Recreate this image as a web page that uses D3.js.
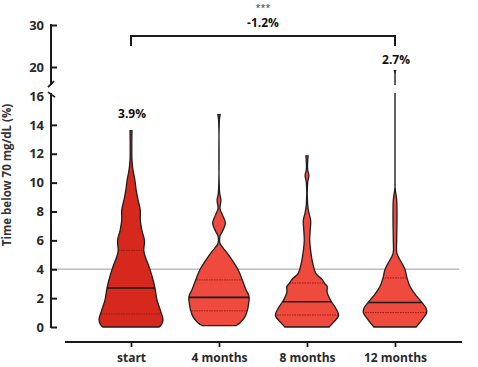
<!DOCTYPE html>
<html><head><meta charset="utf-8">
<script src="https://cdn.jsdelivr.net/npm/d3@7"></script>
<style>body{margin:0;background:#fff}svg{display:block}text{font-family:"Open Sans",sans-serif}</style>
</head><body><svg id="c" width="478" height="367"></svg>
<script>
const categories = ["start","4 months","8 months","12 months"];
const medians = [2.7, 2.05, 1.75, 1.7];
const q1 = [0.9, 1.12, 0.83, 1.0];
const q3 = [5.3, 3.26, 3.05, 3.4];
const maxima = [13.6, 14.7, 11.85, 19.3];
const pctLabels = ["3.9%", "", "", "2.7%"];
const lowTicks = [0,2,4,6,8,10,12,14,16];
const highTicks = [20,30];
const refLine = 4;
const compText = ["***", "-1.2%"];
// density profiles: [value, relative density]
const densStart = [[0,0.88],[0.2,0.96],[0.5,1.0],[1.2,0.91],[1.9,0.81],[2.7,0.75],[3.5,0.66],[4.2,0.56],[4.9,0.44],[5.3,0.40],[6.0,0.42],[6.7,0.34],[7.4,0.29],[8.1,0.29],[8.8,0.22],[9.5,0.16],[10.2,0.12],[10.9,0.06],[11.6,0.03],[12.5,0.025],[13.6,0.03]];
const dens4 = [[0.1,0.53],[0.3,0.66],[0.7,0.81],[1.1,0.88],[1.4,0.91],[2.1,0.94],[2.6,0.84],[3.3,0.72],[4.0,0.59],[4.9,0.33],[5.5,0.12],[5.8,0.03],[6.3,0.03],[6.6,0.1],[7.2,0.2],[7.8,0.1],[8.2,0.03],[8.8,0.06],[9.3,0.02],[14.4,0.015],[14.7,0.035]];
const dens8 = [[0,0.69],[0.35,0.84],[0.8,0.99],[1.3,0.9],[1.8,0.75],[2.4,0.63],[2.8,0.63],[3.0,0.56],[3.3,0.47],[3.7,0.28],[4.4,0.18],[5.1,0.125],[6.0,0.085],[6.7,0.1],[7.4,0.115],[7.9,0.06],[8.5,0.02],[10.0,0.02],[10.5,0.06],[10.9,0.02],[11.6,0.025],[11.85,0.035]];
const dens12 = [[0,0.66],[0.5,0.84],[1.0,0.99],[1.3,0.97],[1.7,0.84],[2.3,0.62],[2.8,0.47],[3.4,0.375],[4.0,0.31],[4.4,0.22],[5.1,0.06],[6.0,0.053],[7.4,0.062],[8.8,0.053],[9.4,0.015],[9.6,0.0]];
const densities = [densStart, dens4, dens8, dens12];
const fills = ["#d7281d","#ee4a3d","#ee4a3d","#ee4a3d"];

const svg = d3.select("#c");
const x = d3.scalePoint().domain(categories).range([131,395]);
const yLow = d3.scaleLinear().domain([0,16]).range([327,96]);
const yHigh = d3.scaleLinear().domain([20,30]).range([67,25]);
const w = d3.scaleLinear().domain([0,1]).range([0,32]);
const axX = 51;

// reference line
svg.append("line").attr("x1",axX).attr("x2",459).attr("y1",yLow(refLine)).attr("y2",yLow(refLine))
  .attr("stroke","#bdbdbd").attr("stroke-width",1.5);

// violins
categories.forEach((c,i)=>{
  const cx = x(c);
  const area = d3.area().curve(d3.curveCatmullRom.alpha(0.5))
    .y(d=>yLow(d[0])).x0(d=>cx-w(d[1])).x1(d=>cx+w(d[1]));
  const dPath = area(densities[i]);
  svg.append("clipPath").attr("id","clip"+i).append("path").attr("d",dPath);
  svg.append("path").attr("d",dPath).attr("fill",fills[i]);
  const g = svg.append("g").attr("clip-path","url(#clip"+i+")");
  [q1[i],q3[i]].forEach(v=>{
    g.append("line").attr("x1",cx-40).attr("x2",cx+40).attr("y1",yLow(v)).attr("y2",yLow(v))
      .attr("stroke","#9a1a10").attr("stroke-width",1).attr("stroke-dasharray","1.5,1");
  });
  g.append("line").attr("x1",cx-40).attr("x2",cx+40).attr("y1",yLow(medians[i])).attr("y2",yLow(medians[i]))
    .attr("stroke","#1a1a1a").attr("stroke-width",1.6);
  svg.append("path").attr("d",dPath).attr("fill","none").attr("stroke","#1e1e1e").attr("stroke-width",1.3);
});

// 12 months whisker across the break
{
  const cx = x("12 months");
  svg.append("line").attr("x1",cx).attr("x2",cx).attr("y1",yLow(9.4)).attr("y2",yLow(16.2))
    .attr("stroke","#1e1e1e").attr("stroke-width",1.4);
  svg.append("line").attr("x1",cx).attr("x2",cx).attr("y1",yHigh(maxima[3])).attr("y2",yHigh(15.7))
    .attr("stroke","#1e1e1e").attr("stroke-width",1.4);
  svg.append("path").attr("d",`M${cx-1.5},${yHigh(maxima[3])}L${cx+1.5},${yHigh(maxima[3])}L${cx},${yHigh(maxima[3])+4}Z`)
    .attr("fill","#1e1e1e");
}

// y axes
const lowAxis = d3.axisLeft(yLow).tickValues(lowTicks).tickSizeInner(-6).tickSizeOuter(0).tickPadding(7);
const gl = svg.append("g").attr("transform",`translate(${axX},0)`).call(lowAxis);
const highAxis = d3.axisLeft(yHigh).tickValues(highTicks).tickSizeInner(-6).tickSizeOuter(0).tickPadding(7);
const gh = svg.append("g").attr("transform",`translate(${axX},0)`).call(highAxis);
[gl,gh].forEach(g=>{
  g.select(".domain").remove();
  g.selectAll(".tick line").attr("stroke","#1a1a1a").attr("stroke-width",2);
  g.selectAll(".tick text").attr("fill","#2a2a2a").style("font-size","13px").style("font-weight","700");
});
gl.selectAll(".tick").filter(d=>d===16).select("line").remove();
svg.append("line").attr("x1",axX).attr("x2",axX).attr("y1",yLow(0)+1).attr("y2",yLow(16.2)).attr("stroke","#1a1a1a").attr("stroke-width",2);
svg.append("line").attr("x1",axX).attr("x2",axX).attr("y1",yHigh(30)-1).attr("y2",yHigh(15.7)).attr("stroke","#1a1a1a").attr("stroke-width",2);
// break marks
svg.append("line").attr("x1",axX-3).attr("x2",axX+3).attr("y1",yHigh(15.7)+2).attr("y2",yHigh(15.7)-4).attr("stroke","#1a1a1a").attr("stroke-width",1.8);
svg.append("line").attr("x1",axX-3).attr("x2",axX+4).attr("y1",yLow(16.2)-1).attr("y2",yLow(16.2)+4).attr("stroke","#1a1a1a").attr("stroke-width",1.8);

// x axis
const xAxis = d3.axisBottom(x).tickSizeInner(5).tickSizeOuter(0).tickPadding(6);
const gx = svg.append("g").attr("transform","translate(0,342)").call(xAxis);
gx.select(".domain").remove();
gx.selectAll(".tick line").attr("stroke","#1a1a1a").attr("stroke-width",1.8);
gx.selectAll(".tick text").attr("fill","#2a2a2a").style("font-size","12px").style("font-weight","700");
svg.append("line").attr("x1",65).attr("x2",462).attr("y1",342).attr("y2",342).attr("stroke","#1a1a1a").attr("stroke-width",2);

// y label
svg.append("text").attr("transform","translate(11,175) rotate(-90)").attr("text-anchor","middle")
  .style("font-size","11.5px").style("font-weight","700").attr("fill","#333").text("Time below 70 mg/dL (%)");

// percent labels
categories.forEach((c,i)=>{
  if(!pctLabels[i]) return;
  const yy = i===3 ? 64 : 118;
  svg.append("text").attr("x",x(c)+1).attr("y",yy).attr("text-anchor","middle")
    .style("font-size","12px").style("font-weight","700").attr("fill","#111").text(pctLabels[i]);
});

// comparison bracket
const x0 = x(categories[0]), x1 = x(categories[3]);
svg.append("path").attr("d",`M${x0},46V36H${x1}V46`).attr("fill","none").attr("stroke","#1a1a1a").attr("stroke-width",2);
svg.append("text").attr("x",(x0+x1)/2).attr("y",11).attr("text-anchor","middle")
  .style("font-size","9px").style("font-weight","400").attr("fill","#333").text(compText[0]);
svg.append("text").attr("x",(x0+x1)/2).attr("y",27).attr("text-anchor","middle")
  .style("font-size","12px").style("font-weight","700").attr("fill","#111").text(compText[1]);
</script></body></html>
